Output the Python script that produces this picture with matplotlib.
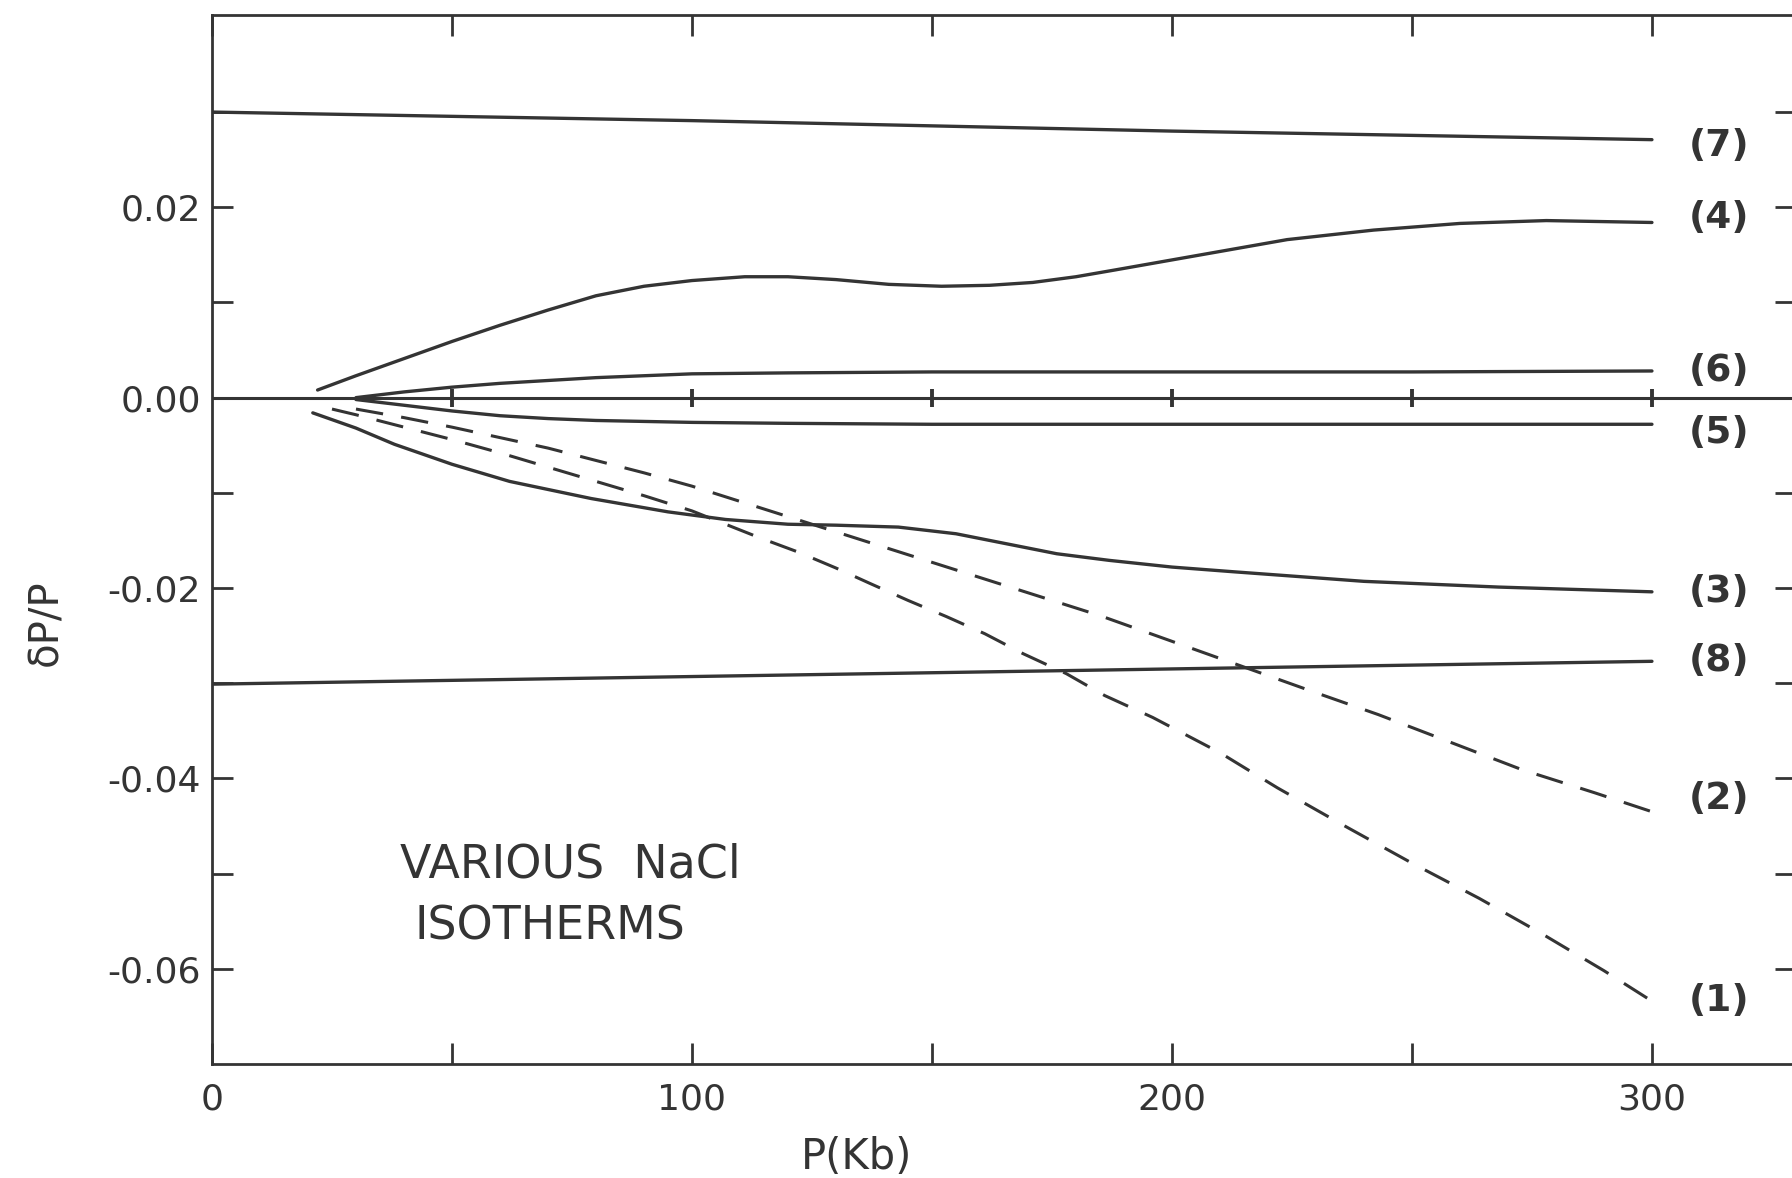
import matplotlib
matplotlib.use("Agg")
import matplotlib.pyplot as plt
from matplotlib.ticker import FixedLocator, FixedFormatter

# pressure (Kb) and dP/P
p7 = [0, 100, 200, 300]
d7 = [0.0300, 0.0291, 0.0280, 0.0271]

p8 = [0, 100, 200, 300]
d8 = [-0.0301, -0.0293, -0.0285, -0.0277]

p4 = [22, 30, 40, 50, 60, 70, 80, 90, 100, 111, 120, 130, 141, 152, 162,
      171, 180, 188, 206, 224, 242, 260, 278, 300]
d4 = [0.0008, 0.0023, 0.0041, 0.0059, 0.0076, 0.0092, 0.0107, 0.0117,
      0.0123, 0.0127, 0.0127, 0.0124, 0.0119, 0.0117, 0.0118, 0.0121,
      0.0127, 0.0134, 0.0150, 0.0166, 0.0176, 0.0183, 0.0186, 0.0184]

p6 = [30, 40, 50, 60, 70, 80, 90, 100, 120, 150, 200, 250, 300]
d6 = [0.0000, 0.0006, 0.0011, 0.0015, 0.0018, 0.0021, 0.0023, 0.0025,
      0.0026, 0.0027, 0.0027, 0.0027, 0.0028]

p5 = [30, 40, 50, 60, 70, 80, 90, 100, 120, 150, 200, 250, 300]
d5 = [-0.0002, -0.0008, -0.0014, -0.0019, -0.0022, -0.0024, -0.0025,
      -0.0026, -0.0027, -0.0028, -0.0028, -0.0028, -0.0028]

p3 = [21, 30, 38, 50, 62, 79, 95, 107, 120, 130, 143, 155, 169, 176, 187,
      200, 213, 240, 268, 300]
d3 = [-0.0016, -0.0032, -0.0049, -0.0070, -0.0088, -0.0106, -0.0120,
      -0.0128, -0.0133, -0.0134, -0.0136, -0.0143, -0.0157, -0.0164,
      -0.0171, -0.0178, -0.0183, -0.0193, -0.0199, -0.0204]

p2 = [30, 40, 50, 60, 70, 80, 90, 100, 110, 120, 130, 140, 155, 170, 185,
      200, 215, 230, 243, 258, 273, 288, 300]
d2 = [-0.0012, -0.0021, -0.0031, -0.0042, -0.0053, -0.0066, -0.0079,
      -0.0093, -0.0109, -0.0125, -0.0141, -0.0157, -0.0181, -0.0205,
      -0.0229, -0.0256, -0.0283, -0.0310, -0.0333, -0.0362, -0.0391,
      -0.0415, -0.0435]

p1 = [25, 30, 40, 50, 60, 70, 80, 90, 100, 107, 114, 122, 130, 137, 145,
      153, 161, 169, 178, 186, 196, 210, 222, 236, 250, 264, 277, 290, 300]
d1 = [-0.0012, -0.0018, -0.0031, -0.0044, -0.0058, -0.0073, -0.0088,
      -0.0103, -0.0119, -0.0133, -0.0147, -0.0162, -0.0179, -0.0195,
      -0.0213, -0.0230, -0.0248, -0.0269, -0.0290, -0.0313, -0.0336,
      -0.0373, -0.0410, -0.0450, -0.0489, -0.0526, -0.0563, -0.0602, -0.0634]

solid = [("(7)", p7, d7), ("(4)", p4, d4), ("(6)", p6, d6), ("(5)", p5, d5),
         ("(3)", p3, d3), ("(8)", p8, d8)]
dashed = [("(2)", p2, d2), ("(1)", p1, d1)]

ytick_vals = [-0.06, -0.04, -0.02, 0.00, 0.02]
ytick_text = ["-0.06", "-0.04", "-0.02", "0.00", "0.02"]
ytick_minor = [-0.05, -0.03, -0.01, 0.01, 0.03]
xtick_vals = [0, 100, 200, 300]
xtick_text = ["0", "100", "200", "300"]
xtick_minor = [50, 150, 250]

# small vertical shifts of the curve names, relative to the curve ends
label_shift = {"(7)": -0.0007, "(4)": 0.0005, "(5)": -0.0009, "(2)": 0.0013}

ink = "#343434"
plt.rcParams["font.family"] = ["DejaVu Sans"]

fig = plt.figure(figsize=(17.92, 11.78), dpi=100)
ax = fig.add_axes([0.1183, 0.0968, 0.8839, 0.8905])
ax.set_xlim(0, 330)
ax.set_ylim(-0.0700, 0.0402)

# zero line with its little cross ticks
ax.axhline(0, color=ink, lw=2.2, zorder=2)
ax.plot(xtick_minor + xtick_vals[1:], [0] * 6, ls="none", marker="|",
        ms=13, mew=2.8, color=ink)

for name, px, dy in solid:
    ax.plot(px, dy, color=ink, lw=2.4, solid_capstyle="round",
            solid_joinstyle="round")
for name, px, dy in dashed:
    ax.plot(px, dy, color=ink, lw=2.2, dashes=(9, 6))

for name, px, dy in solid + dashed:
    ax.text(314, dy[-1] + label_shift.get(name, 0.0), name, ha="center",
            va="center", fontsize=27, fontweight="bold", color=ink)

ax.text(39.2, -0.0504, "VARIOUS  NaCl", fontsize=33, color=ink,
        va="baseline")
ax.text(42.1, -0.0569, "ISOTHERMS", fontsize=33, color=ink, va="baseline")

ax.yaxis.set_major_locator(FixedLocator(ytick_vals))
ax.yaxis.set_major_formatter(FixedFormatter(ytick_text))
ax.yaxis.set_minor_locator(FixedLocator(ytick_minor))
ax.xaxis.set_major_locator(FixedLocator(xtick_vals))
ax.xaxis.set_major_formatter(FixedFormatter(xtick_text))
ax.xaxis.set_minor_locator(FixedLocator(xtick_minor))

ax.tick_params(which="both", direction="in", length=15, width=2.0,
               color=ink, top=True, right=True, labelcolor=ink)
ax.tick_params(axis="y", labelsize=26, pad=8)
ax.tick_params(axis="x", labelsize=26, pad=13)

for s in ax.spines.values():
    s.set_linewidth(2.0)
    s.set_color(ink)

fig.text(0.4782, 0.0178, "P(Kb)", fontsize=30, color=ink,
         ha="center", va="center")
fig.text(0.0257, 0.471, "δP/P", fontsize=29, color=ink,
         ha="center", va="center", rotation=90)

fig.savefig("out.png", dpi=100, facecolor="white")
